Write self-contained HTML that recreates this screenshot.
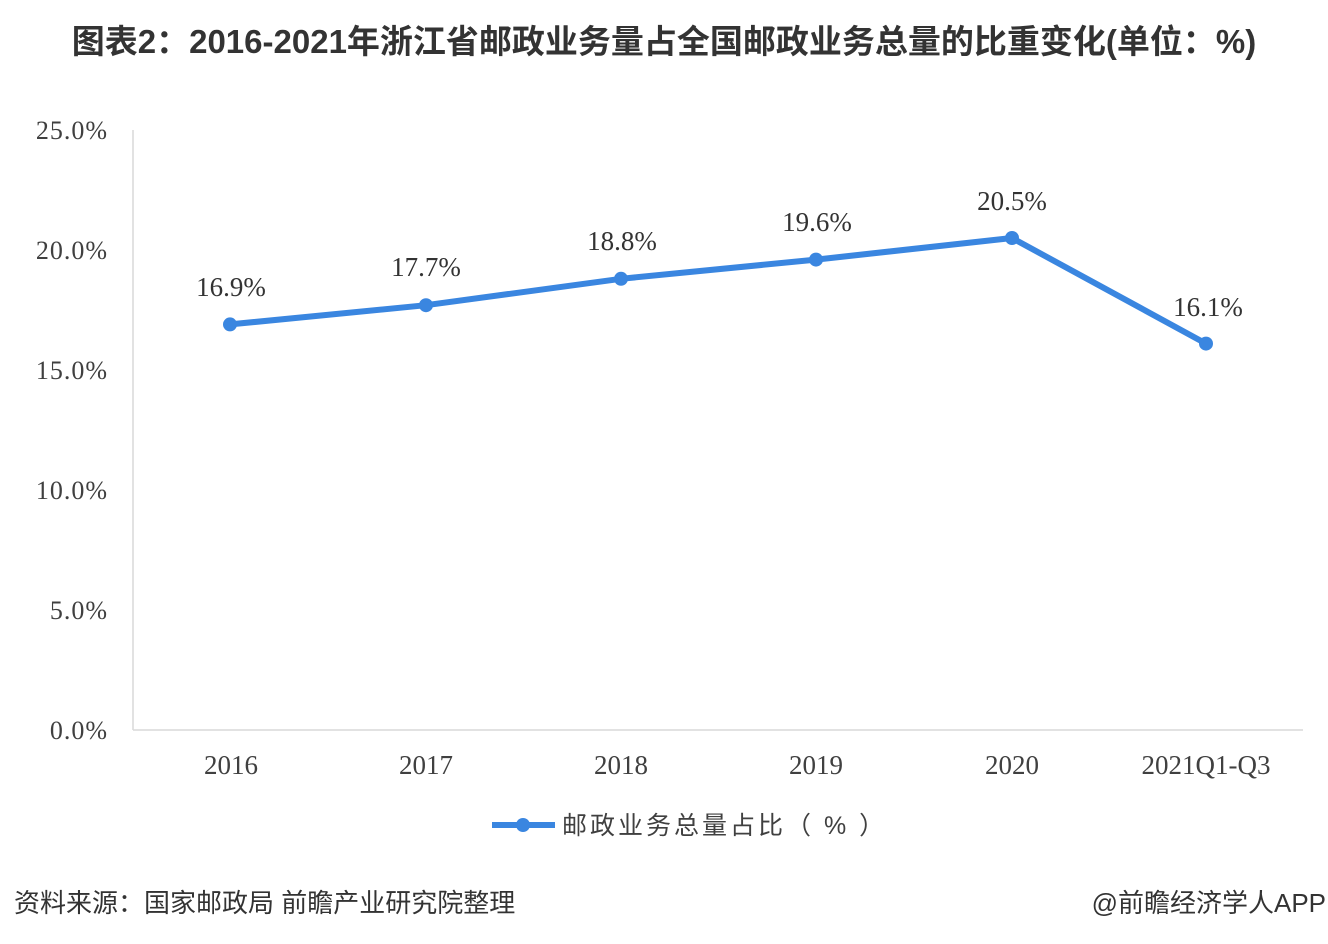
<!DOCTYPE html>
<html><head><meta charset="utf-8"><style>
body{margin:0;background:#fff;width:1328px;height:944px;overflow:hidden}
svg{display:block}
</style></head><body>
<svg width="1328" height="944" xmlns="http://www.w3.org/2000/svg" font-family="'Liberation Serif','Noto Serif CJK SC',serif">
<text x="664" y="53" text-anchor="middle" font-family="'Liberation Sans','Noto Sans CJK SC',sans-serif" font-weight="bold" font-size="33" fill="#333">图表2：2016-2021年浙江省邮政业务量占全国邮政业务总量的比重变化(单位：%)</text>
<g stroke="#d9d9d9" stroke-width="1.5">
<line x1="133" y1="130" x2="133" y2="730"/>
<line x1="133" y1="730" x2="1303" y2="730"/>
</g>
<g font-size="26" fill="#404040" text-anchor="end" letter-spacing="1">
<text x="108" y="139">25.0%</text>
<text x="108" y="259">20.0%</text>
<text x="108" y="379">15.0%</text>
<text x="108" y="499">10.0%</text>
<text x="108" y="619">5.0%</text>
<text x="108" y="739">0.0%</text>
</g>
<g font-size="27" fill="#404040" text-anchor="middle">
<text x="231" y="774">2016</text>
<text x="426" y="774">2017</text>
<text x="621" y="774">2018</text>
<text x="816" y="774">2019</text>
<text x="1012" y="774">2020</text>
<text x="1206" y="774">2021Q1-Q3</text>
</g>
<polyline points="230,324.4 426,305.2 621,278.8 816,259.6 1012,238 1206,343.6" fill="none" stroke="#3a86e0" stroke-width="6" stroke-linejoin="round"/>
<g fill="#3a86e0">
<circle cx="230" cy="324.4" r="7"/><circle cx="426" cy="305.2" r="7"/><circle cx="621" cy="278.8" r="7"/>
<circle cx="816" cy="259.6" r="7"/><circle cx="1012" cy="238" r="7"/><circle cx="1206" cy="343.6" r="7"/>
</g>
<g font-size="27" fill="#333" text-anchor="middle">
<text x="231" y="296">16.9%</text>
<text x="426" y="276">17.7%</text>
<text x="622" y="250">18.8%</text>
<text x="817" y="231">19.6%</text>
<text x="1012" y="210">20.5%</text>
<text x="1208" y="316">16.1%</text>
</g>
<line x1="492" y1="825" x2="555" y2="825" stroke="#3a86e0" stroke-width="6"/>
<circle cx="523" cy="825" r="7" fill="#3a86e0"/>
<text x="562" y="834" font-size="25" fill="#404040" letter-spacing="3" font-family="'Liberation Sans','Noto Sans CJK SC',sans-serif">邮政业务总量占比（ % ）</text>
<text x="14" y="912" font-size="26" fill="#333" font-family="'Liberation Sans','Noto Sans CJK SC',sans-serif">资料来源：国家邮政局 前瞻产业研究院整理</text>
<text x="1326" y="912" text-anchor="end" font-size="26" fill="#333" font-family="'Liberation Sans','Noto Sans CJK SC',sans-serif">@前瞻经济学人APP</text>
</svg>
</body></html>
